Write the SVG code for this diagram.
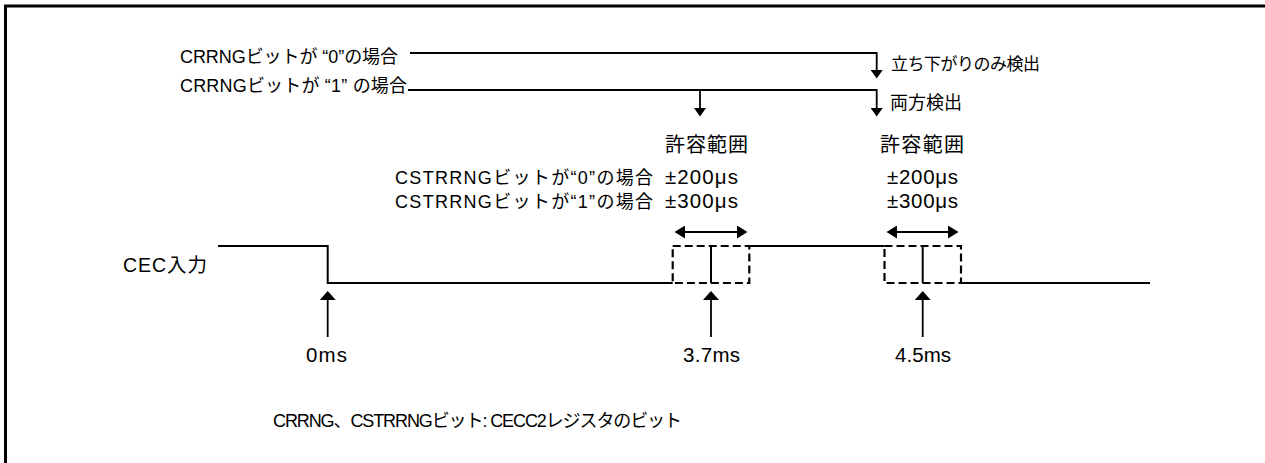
<svg xmlns="http://www.w3.org/2000/svg" width="1265" height="463" viewBox="0 0 1265 463">
<style>
text{font-family:"Liberation Sans","Noto Sans CJK JP",sans-serif;font-size:18px;fill:#000}
text.lat{font-size:20.5px}
text.big{font-size:20px}
.ln{fill:none;stroke:#000;stroke-width:1.8}
.sig{fill:none;stroke:#000;stroke-width:2}
.dash{fill:none;stroke:#000;stroke-width:2.2;stroke-dasharray:8 4}
.frame{fill:none;stroke:#000;stroke-width:3}
</style>
<defs>
<marker id="ahDown" markerUnits="userSpaceOnUse" markerWidth="10" markerHeight="12" viewBox="0 0 9 12" refX="5" refY="6" orient="auto"><path d="M0,0 L8.5,6 L0,12 z" fill="#000"/></marker>
<marker id="ahUp" markerUnits="userSpaceOnUse" markerWidth="10" markerHeight="16" viewBox="0 0 9 16" refX="5" refY="8" orient="auto"><path d="M0,0 L9,8 L0,16 z" fill="#000"/></marker>
<marker id="ahDbl" markerUnits="userSpaceOnUse" markerWidth="11" markerHeight="13" viewBox="0 0 11 13" refX="6" refY="6.5" orient="auto-start-reverse"><path d="M0,0 L10.5,6.5 L0,13 z" fill="#000"/></marker>
</defs>
<path class="frame" d="M5.5,480 V6 H1290"/>

<g id="label-crrng0"><text x="180" y="63" textLength="218" lengthAdjust="spacing">CRRNGビットが “0”の場合</text></g>
<g id="label-crrng1"><text x="180" y="92" textLength="227" lengthAdjust="spacing">CRRNGビットが “1” の場合</text></g>
<g id="label-fall"><text x="891" y="69.5" style="font-size:17px" textLength="149" lengthAdjust="spacing">立ち下がりのみ検出</text></g>
<g id="label-both"><text x="890" y="109" textLength="72" lengthAdjust="spacing">両方検出</text></g>

<g id="range1">
<text class="big" x="665" y="151.5" textLength="83" lengthAdjust="spacing">許容範囲</text>
<text class="lat" x="665" y="183.5" textLength="73" lengthAdjust="spacing">±200μs</text>
<text class="lat" x="665" y="208" textLength="73" lengthAdjust="spacing">±300μs</text>
<rect class="dash" x="672.7" y="246" width="76.6" height="37"/>
</g>
<g id="range2">
<text class="big" x="880" y="151.5" textLength="84" lengthAdjust="spacing">許容範囲</text>
<text class="lat" x="887" y="183.5" textLength="71" lengthAdjust="spacing">±200μs</text>
<text class="lat" x="887" y="208" textLength="71" lengthAdjust="spacing">±300μs</text>
<rect class="dash" x="884.5" y="246" width="76.5" height="37"/>
</g>
<g id="cstrrng-labels">
<text x="395" y="183.5" textLength="258" lengthAdjust="spacing">CSTRRNGビットが“0”の場合</text>
<text x="395" y="208" textLength="258" lengthAdjust="spacing">CSTRRNGビットが“1”の場合</text>
</g>
<g id="cec-input">
<text x="123" y="271.5" style="font-size:19.5px" textLength="84" lengthAdjust="spacing">CEC入力</text>
<path class="sig" d="M218,246 H327.7 V283 H672.7"/>
<path class="sig" d="M711,246 V283"/>
<path class="sig" d="M749.3,246 H884.5"/>
<path class="sig" d="M922.7,246 V283"/>
<path class="sig" d="M961,283 H1150"/>
</g>
<g id="time-0"><text class="lat" x="306" y="362" textLength="41" lengthAdjust="spacing">0ms</text></g>
<g id="time-37"><text class="lat" x="683" y="362.3" textLength="57" lengthAdjust="spacing">3.7ms</text></g>
<g id="time-45"><text class="lat" x="895" y="362.3" textLength="56" lengthAdjust="spacing">4.5ms</text></g>
<g id="footer"><text x="273" y="427" textLength="409" lengthAdjust="spacing">CRRNG、CSTRRNGビット: CECC2レジスタのビット</text></g>

<g id="connectors">
<polyline class="ln" points="410,53 876.7,53 876.7,75" marker-end="url(#ahDown)"/>
<polyline class="ln" points="408,90 876.7,90 876.7,113" marker-end="url(#ahDown)"/>
<line class="ln" x1="700" y1="90" x2="700" y2="113" marker-end="url(#ahDown)"/>
<line class="ln" x1="679" y1="232" x2="743" y2="232" marker-start="url(#ahDbl)" marker-end="url(#ahDbl)"/>
<line class="ln" x1="891" y1="232" x2="954" y2="232" marker-start="url(#ahDbl)" marker-end="url(#ahDbl)"/>
<line class="ln" x1="327.7" y1="337" x2="327.7" y2="295" marker-end="url(#ahUp)"/>
<line class="ln" x1="711" y1="337" x2="711" y2="295" marker-end="url(#ahUp)"/>
<line class="ln" x1="922.7" y1="337" x2="922.7" y2="295" marker-end="url(#ahUp)"/>
</g>
</svg>
